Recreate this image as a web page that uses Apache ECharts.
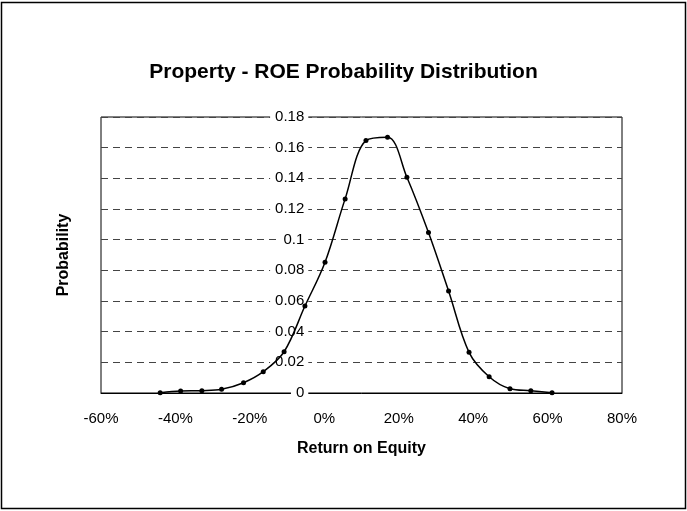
<!DOCTYPE html>
<html>
<head>
<meta charset="utf-8">
<script src="https://cdn.jsdelivr.net/npm/echarts@6/dist/echarts.min.js"></script>
<style>
  html, body { margin: 0; padding: 0; background: #fff; }
  #chart { width: 687px; height: 511px; }
</style>
</head>
<body>
<div id="chart"></div>
<script>
// return on equity (%)
var roe = [-44.1, -38.6, -32.9, -27.6, -21.7, -16.4, -10.8, -5.2, 0.2, 5.6,
           11.2, 17.0, 22.2, 28.0, 33.4, 38.9, 44.3, 49.9, 55.5, 61.2];
// probability for each point
var prob = [0.0002, 0.0013, 0.0015, 0.0024, 0.0067, 0.0139, 0.0269, 0.0567, 0.0853, 0.1266,
            0.1646, 0.1668, 0.1407, 0.1046, 0.0665, 0.0265, 0.0106, 0.0028, 0.0015, 0.0002];
var xTicks = [-60, -40, -20, 0, 20, 40, 60, 80];
var yTicks = [0, 0.02, 0.04, 0.06, 0.08, 0.1, 0.12, 0.14, 0.16, 0.18];

var points = roe.map(function (x, i) { return [x, prob[i]]; });

var dom = document.getElementById('chart');
var myChart = echarts.init(dom, null, { renderer: 'canvas' });

// plot box
var gridLeft = 101, gridRight = 65;
var plotWidth = 687 - gridLeft - gridRight;
// the value axis sits on x = 0, as in the original
var zeroOffset = plotWidth * (0 - xTicks[0]) / (xTicks[xTicks.length - 1] - xTicks[0]);

var option = {
  backgroundColor: '#fff',
  animation: false,
  textStyle: {
    fontFamily: 'Liberation Sans, Arial, sans-serif',
    color: '#000'
  },
  title: {
    text: 'Property - ROE Probability Distribution',
    left: 'center',
    top: 57,
    textStyle: {
      fontSize: 21,
      fontWeight: 'bold',
      color: '#000'
    }
  },
  graphic: [{
    type: 'rect',
    shape: { x: 1.5, y: 2.5, width: 684, height: 506 },
    style: { fill: 'none', stroke: '#000', lineWidth: 1.5 },
    silent: true
  }],
  grid: {
    left: gridLeft,
    right: gridRight,
    top: 117,
    bottom: 118,
    show: true,
    borderColor: '#000',
    borderWidth: 1
  },
  xAxis: {
    type: 'value',
    min: xTicks[0],
    max: xTicks[xTicks.length - 1],
    interval: 20,
    name: 'Return on Equity',
    nameLocation: 'middle',
    nameGap: 48,
    nameTextStyle: { fontSize: 16, fontWeight: 'bold', color: '#000' },
    axisLine: { show: true, onZero: false, lineStyle: { color: '#000', width: 1 } },
    axisTick: { show: false },
    splitLine: { show: false },
    axisLabel: {
      margin: 18,
      fontSize: 15,
      color: '#000',
      formatter: '{value}%'
    }
  },
  yAxis: {
    type: 'value',
    position: 'left',
    offset: -zeroOffset,
    min: yTicks[0],
    max: yTicks[yTicks.length - 1],
    interval: 0.02,
    name: 'Probability',
    nameLocation: 'middle',
    nameRotate: 90,
    nameGap: zeroOffset + 29,
    nameTextStyle: { fontSize: 16, fontWeight: 'bold', color: '#000' },
    axisLine: { show: false, onZero: false },
    axisTick: { show: false },
    splitLine: {
      show: true,
      lineStyle: { color: '#444', width: 1, type: [7, 5] }
    },
    axisLabel: {
      margin: 16,
      fontSize: 15,
      color: '#000',
      backgroundColor: '#fff',
      padding: [0, 4, 0, 5],
      formatter: function (v) { return String(Math.round(v * 100) / 100); }
    }
  },
  series: [{
    type: 'line',
    data: points,
    smooth: 0.35,
    symbol: 'circle',
    symbolSize: 5,
    itemStyle: { color: '#000' },
    lineStyle: { color: '#000', width: 1.5 }
  }]
};

myChart.setOption(option, true);
</script>
</body>
</html>
